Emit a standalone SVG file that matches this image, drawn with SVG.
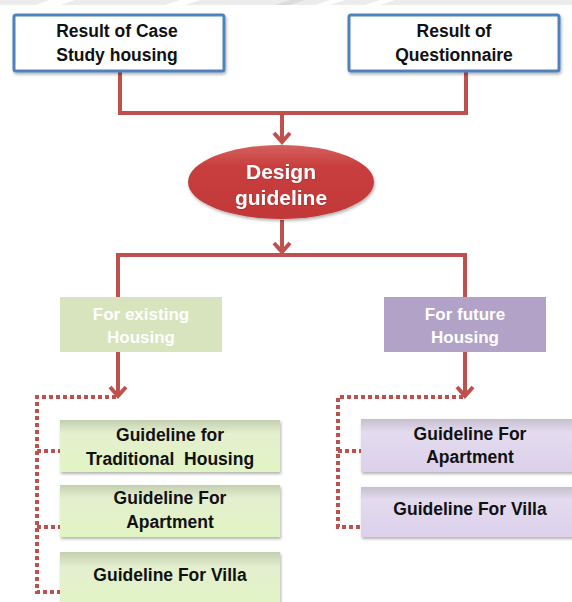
<svg xmlns="http://www.w3.org/2000/svg" width="572" height="602" viewBox="0 0 572 602">
<defs>
<style>
.t{font-family:"Liberation Sans","DejaVu Sans",sans-serif;font-weight:bold;text-anchor:middle;}
.dk{fill:#111111;font-size:17.5px;}
.wh{fill:#ffffff;font-size:17px;}
.top{fill:#ffffff;stroke:#4f81bd;stroke-width:3;}
.ln{fill:none;stroke:#c0504d;stroke-width:4;stroke-linejoin:miter;}
.dot{fill:none;stroke:#c0504d;stroke-width:4;stroke-dasharray:4 3;}
</style>
<linearGradient id="gG" x1="0" y1="0" x2="0" y2="1">
<stop offset="0" stop-color="#c4cfb1"/>
<stop offset="0.25" stop-color="#e4efcf"/>
<stop offset="1" stop-color="#e1f5c3"/>
</linearGradient>
<linearGradient id="gP" x1="0" y1="0" x2="0" y2="1">
<stop offset="0" stop-color="#c6bfcf"/>
<stop offset="0.25" stop-color="#e3dbee"/>
<stop offset="1" stop-color="#dcd0ec"/>
</linearGradient>
<linearGradient id="gE" x1="0" y1="0" x2="0" y2="1">
<stop offset="0" stop-color="#d4605e"/>
<stop offset="0.3" stop-color="#c83d3d"/>
<stop offset="1" stop-color="#c23838"/>
</linearGradient>
<filter id="sh" x="-10%" y="-10%" width="120%" height="130%">
<feDropShadow dx="1" dy="2" stdDeviation="1.5" flood-color="#000" flood-opacity="0.3"/>
</filter>
<filter id="tsh" x="-10%" y="-10%" width="120%" height="130%">
<feDropShadow dx="0.5" dy="0.5" stdDeviation="0.6" flood-color="#000" flood-opacity="0.25"/>
</filter>
</defs>

<g id="background">
<rect x="0" y="0" width="572" height="5" fill="#ececec"/>
<polygon points="50,0 75,0 60,5 35,5" fill="#ffffff"/>
<polygon points="180,0 200,0 185,5 165,5" fill="#ffffff"/>
<polygon points="290,0 305,0 290,5 275,5" fill="#dcdcdc"/>
<polygon points="380,0 395,0 380,5 365,5" fill="#ffffff"/>
<polygon points="330,0 345,0 330,5 315,5" fill="#ffffff"/>
</g>

<g id="connectors">
<path class="ln" d="M120,71 V113 H466 V71"/>
<path class="ln" d="M282,113 V142"/>
<path class="ln" d="M274,133 L282,142 L290,133"/>
<path class="ln" d="M282,220 V252"/>
<path class="ln" d="M274,243 L282,252 L290,243"/>
<path class="ln" d="M118,297 V255 H465 V297"/>
<path class="ln" d="M118,352 V396"/>
<path class="ln" d="M110,387 L118,396 L126,387"/>
<path class="ln" d="M465,352 V396"/>
<path class="ln" d="M457,387 L465,396 L473,387"/>
<path class="dot" d="M116,397 H37 V592 H60"/>
<path class="dot" d="M37,451 H60"/>
<path class="dot" d="M37,527 H60"/>
<path class="dot" d="M463,397 H338 V527 H361"/>
<path class="dot" d="M338,451 H361"/>
</g>

<g id="case-study">
<rect class="top" x="14" y="15" width="210" height="56" rx="2" filter="url(#sh)"/>
<text class="t dk" x="117" y="37">Result of Case</text>
<text class="t dk" x="117" y="61">Study housing</text>
</g>

<g id="questionnaire">
<rect class="top" x="349" y="15" width="210" height="56" rx="2" filter="url(#sh)"/>
<text class="t dk" x="454" y="37">Result of</text>
<text class="t dk" x="454" y="61">Questionnaire</text>
</g>

<g id="design-guideline">
<ellipse cx="281" cy="182" rx="93" ry="37" fill="url(#gE)" filter="url(#sh)"/>
<text class="t" x="281" y="179" fill="#ffffff" font-size="21" filter="url(#tsh)">Design</text>
<text class="t" x="281" y="205" fill="#ffffff" font-size="21" filter="url(#tsh)">guideline</text>
</g>

<g id="existing-housing">
<rect x="60" y="297" width="162" height="55" fill="#d7e4bd"/>
<text class="t wh" x="141" y="320">For existing</text>
<text class="t wh" x="141" y="343">Housing</text>
</g>

<g id="future-housing">
<rect x="384" y="297" width="162" height="55" fill="#b3a2c7"/>
<text class="t wh" x="465" y="320">For future</text>
<text class="t wh" x="465" y="343">Housing</text>
</g>

<g id="traditional">
<rect x="60" y="420" width="220" height="52" fill="url(#gG)" filter="url(#sh)"/>
<text class="t dk" x="170" y="441">Guideline for</text>
<text class="t dk" x="170" y="465" style="white-space:pre">Traditional  Housing</text>
</g>

<g id="existing-apartment">
<rect x="60" y="485" width="220" height="52" fill="url(#gG)" filter="url(#sh)"/>
<text class="t dk" x="170" y="504">Guideline For</text>
<text class="t dk" x="170" y="528">Apartment</text>
</g>

<g id="existing-villa">
<rect x="60" y="552" width="220" height="60" fill="url(#gG)" filter="url(#sh)"/>
<text class="t dk" x="170" y="581">Guideline For Villa</text>
</g>

<g id="future-apartment">
<rect x="361" y="419" width="220" height="53" fill="url(#gP)" filter="url(#sh)"/>
<text class="t dk" x="470" y="440">Guideline For</text>
<text class="t dk" x="470" y="463">Apartment</text>
</g>

<g id="future-villa">
<rect x="361" y="487" width="220" height="50" fill="url(#gP)" filter="url(#sh)"/>
<text class="t dk" x="470" y="515">Guideline For Villa</text>
</g>
</svg>
